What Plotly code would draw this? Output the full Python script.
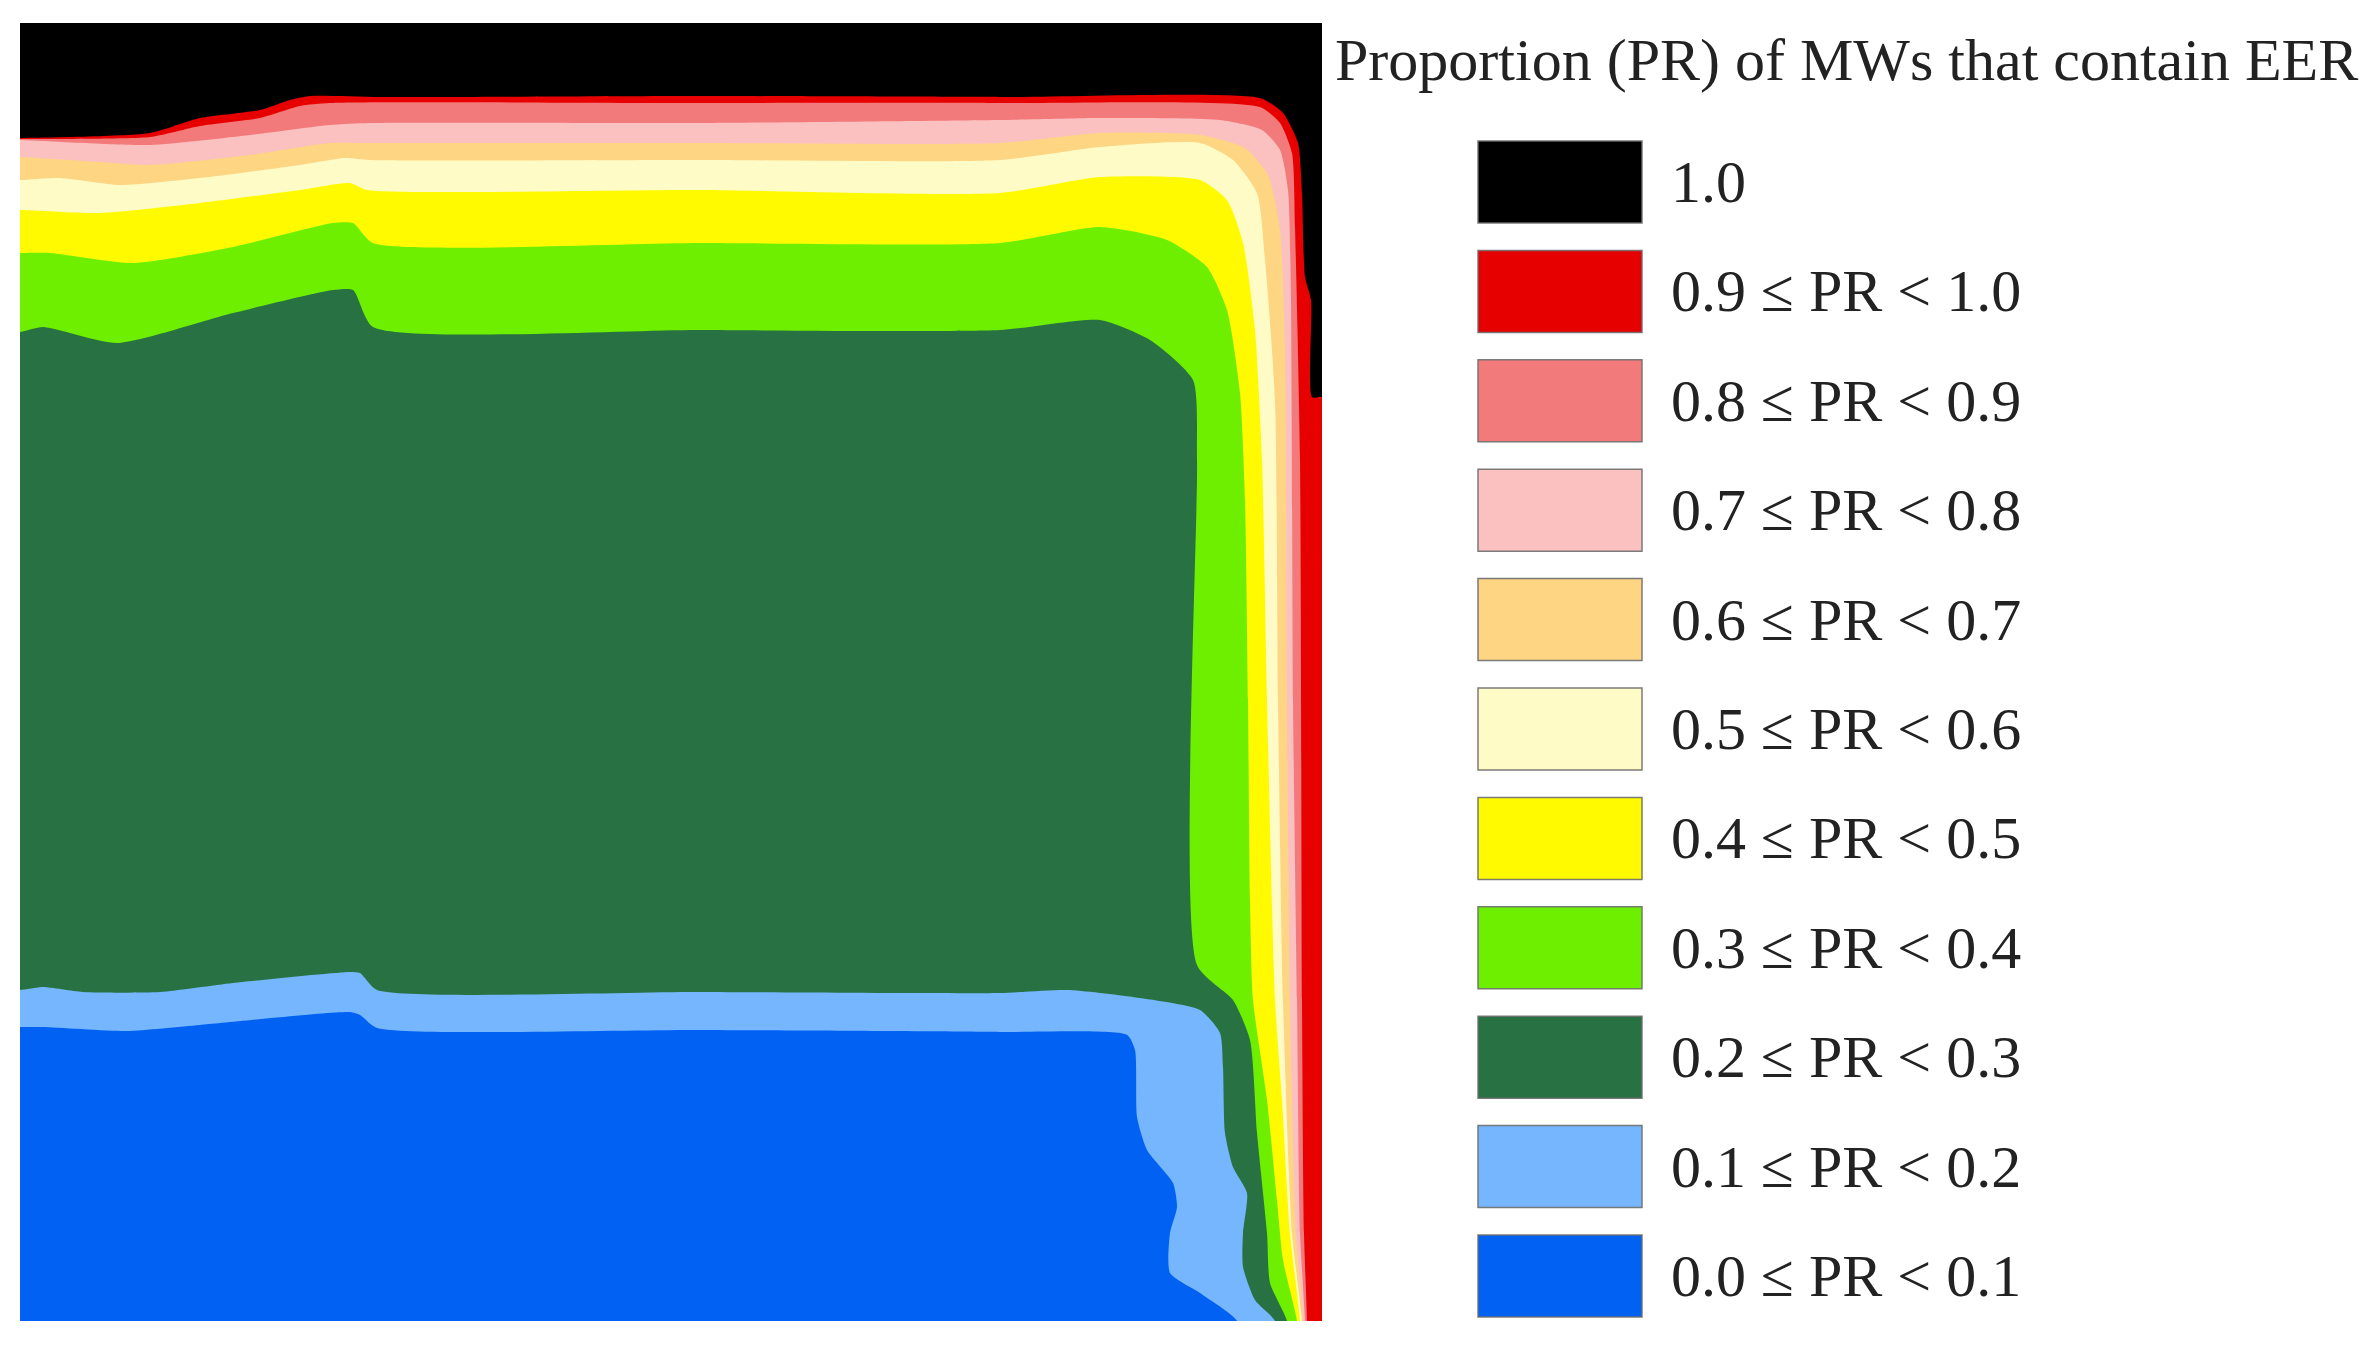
import plotly.graph_objects as go

# class labels and colours, from the highest class (1.0) down to the lowest
pr_labels = ['1.0', '0.9 ≤ PR < 1.0', '0.8 ≤ PR < 0.9', '0.7 ≤ PR < 0.8', '0.6 ≤ PR < 0.7',
             '0.5 ≤ PR < 0.6', '0.4 ≤ PR < 0.5', '0.3 ≤ PR < 0.4', '0.2 ≤ PR < 0.3',
             '0.1 ≤ PR < 0.2', '0.0 ≤ PR < 0.1']
pr_colors = ['#000000', '#E60000', '#F27A7A', '#FBC0C0', '#FDD583', '#FFFBC6',
             '#FFFA00', '#6FEF00', '#277142', '#76B6FF', '#0061F2']

# class boundaries (x from left, y from top, map units)
edge_10_x = [20, 150, 200, 260, 290, 310, 380, 700, 1000, 1260, 1283, 1298, 1302, 1305, 1311, 1312, 1322]
edge_10_y = [138, 133, 118, 110, 100, 96, 97, 96, 97, 98, 113, 143, 193, 277, 300, 397, 397]

edge_09_x = [20, 150, 200, 260, 300, 330, 700, 1000, 1260, 1280, 1292, 1295, 1300, 1302, 1304, 1307]
edge_09_y = [139, 137, 126, 118, 106, 103, 103, 103, 107, 123, 153, 227, 460, 1000, 1233, 1321]

edge_08_x = [20, 150, 250, 330, 370, 700, 1000, 1100, 1220, 1262, 1280, 1288, 1291, 1293, 1297, 1300, 1305]
edge_08_y = [140, 145, 135, 125, 123, 123, 120, 118, 120, 130, 150, 190, 300, 700, 1000, 1233, 1321]

edge_07_x = [20, 100, 150, 250, 330, 370, 700, 1000, 1100, 1200, 1245, 1268, 1280, 1285, 1287, 1290, 1296, 1303]
edge_07_y = [157, 162, 165, 155, 143, 143, 143, 143, 133, 135, 148, 175, 230, 350, 700, 1000, 1233, 1321]

edge_06_x = [20, 60, 120, 200, 300, 345, 370, 700, 1000, 1100, 1200, 1233, 1257, 1265, 1275, 1278, 1283, 1292, 1302]
edge_06_y = [180, 178, 185, 178, 165, 158, 160, 160, 160, 147, 143, 160, 193, 260, 400, 700, 1000, 1233, 1321]

edge_05_x = [20, 100, 200, 300, 350, 367, 700, 1000, 1100, 1200, 1227, 1243, 1255, 1262, 1267, 1275, 1282, 1290, 1300]
edge_05_y = [210, 213, 203, 190, 183, 190, 190, 193, 177, 180, 200, 243, 330, 460, 700, 1000, 1100, 1233, 1321]

edge_04_x = [20, 50, 133, 233, 333, 353, 373, 700, 1000, 1100, 1167, 1207, 1227, 1240, 1245, 1248, 1250, 1253, 1267, 1277, 1283, 1297]
edge_04_y = [253, 253, 263, 247, 223, 223, 243, 243, 243, 227, 240, 267, 310, 393, 500, 700, 900, 1000, 1100, 1200, 1260, 1321]

edge_03_x = [20, 43, 117, 233, 333, 353, 373, 700, 1000, 1100, 1150, 1193, 1197, 1197, 1233, 1250, 1257, 1267, 1270, 1287]
edge_03_y = [332, 327, 343, 313, 290, 290, 327, 330, 330, 320, 340, 380, 460, 965, 1000, 1040, 1133, 1233, 1283, 1321]

edge_02_x = [20, 43, 83, 160, 233, 350, 360, 377, 700, 1000, 1067, 1133, 1200, 1220, 1223, 1225, 1233, 1247, 1243, 1243, 1255, 1275]
edge_02_y = [990, 987, 992, 992, 983, 972, 973, 990, 992, 993, 990, 997, 1010, 1033, 1067, 1133, 1167, 1193, 1233, 1267, 1300, 1321]

edge_01_x = [20, 43, 127, 200, 350, 360, 377, 700, 1000, 1127, 1135, 1137, 1147, 1173, 1177, 1170, 1170, 1200, 1237]
edge_01_y = [1027, 1027, 1031, 1025, 1012, 1015, 1028, 1030, 1032, 1035, 1050, 1117, 1150, 1183, 1207, 1233, 1273, 1293, 1321]

edges = [(edge_10_x, edge_10_y), (edge_09_x, edge_09_y), (edge_08_x, edge_08_y), (edge_07_x, edge_07_y),
         (edge_06_x, edge_06_y), (edge_05_x, edge_05_y), (edge_04_x, edge_04_y), (edge_03_x, edge_03_y),
         (edge_02_x, edge_02_y), (edge_01_x, edge_01_y)]

# map frame
X0, X1, Y0, Y1 = 20, 1322, 23, 1321
OUT = 1345  # closing points are put outside the frame, they get clipped


def close_region(xs, ys):
    # region below/left of a boundary, closed through points outside the frame
    px = [0] + list(xs)
    py = [ys[0]] + list(ys)
    if ys[-1] >= Y1:
        px += [xs[-1]]
        py += [OUT]
    else:
        px += [OUT, OUT]
        py += [ys[-1], OUT]
    px += [0, 0]
    py += [OUT, ys[0]]
    return px, py


fig = go.Figure()

# class 1.0 covers everything, the lower classes are painted on top of it
fig.add_trace(go.Scatter(x=[0, OUT, OUT, 0, 0], y=[0, 0, OUT, OUT, 0], fill='toself',
                         fillcolor=pr_colors[0], mode='lines', line=dict(width=0),
                         name=pr_labels[0], showlegend=False, hoverinfo='name'))
for i, (ex, ey) in enumerate(edges):
    px, py = close_region(ex, ey)
    fig.add_trace(go.Scatter(x=px, y=py, fill='toself', fillcolor=pr_colors[i + 1],
                             mode='lines', line=dict(width=0, shape='spline', smoothing=0.6),
                             name=pr_labels[i + 1], showlegend=False, hoverinfo='name'))

fig.update_xaxes(range=[X0, X1], visible=False)
fig.update_yaxes(range=[Y1, Y0], visible=False)


def paper_x(v):
    return (v - X0) / (X1 - X0)


def paper_y(v):
    return (Y1 - v) / (Y1 - Y0)


serif = 'Liberation Serif, Times New Roman, serif'

# hand-drawn legend on the right
box_left, box_right = 1478, 1642
box_top0, box_pitch, box_h = 141, 109.4, 82
shapes = []
annotations = []
for i, (lab, col) in enumerate(zip(pr_labels, pr_colors)):
    top = box_top0 + i * box_pitch
    shapes.append(dict(type='rect', xref='paper', yref='paper',
                       x0=paper_x(box_left), x1=paper_x(box_right),
                       y0=paper_y(top + box_h), y1=paper_y(top),
                       fillcolor=col, line=dict(color='rgba(110,110,110,0.9)', width=1.5)))
    annotations.append(dict(xref='paper', yref='paper', x=paper_x(1669), y=paper_y(top + box_h / 2),
                            text=lab, showarrow=False, xanchor='left', yanchor='middle',
                            font=dict(family=serif, size=60, color='#222222')))

annotations.append(dict(xref='paper', yref='paper', x=paper_x(1333), y=paper_y(60),
                        text='Proportion (PR) of MWs that contain EER', showarrow=False,
                        xanchor='left', yanchor='middle',
                        font=dict(family=serif, size=60, color='#222222')))

fig.update_layout(
    width=2359, height=1331,
    margin=dict(l=12, r=1045, t=15, b=18),
    paper_bgcolor='white',
    plot_bgcolor='white',
    showlegend=False,
    shapes=shapes,
    annotations=annotations,
)

fig.write_html("out.html")
